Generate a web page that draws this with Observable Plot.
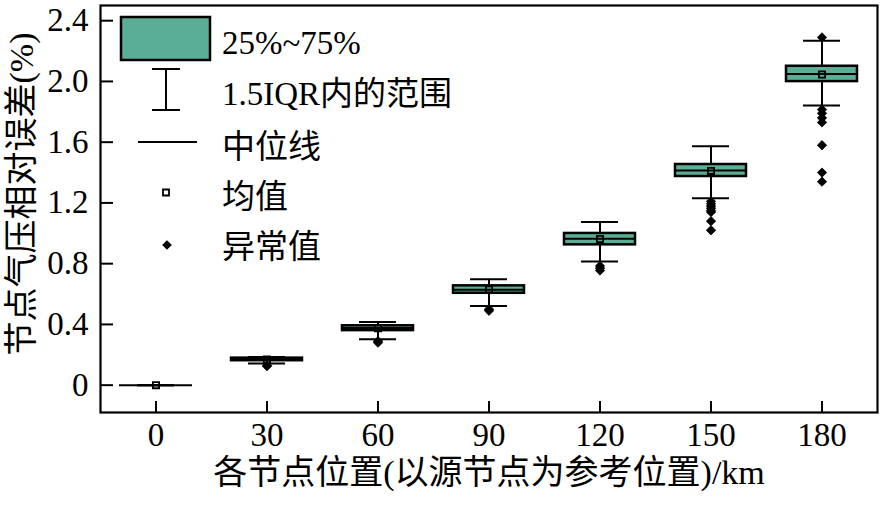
<!DOCTYPE html>
<html><head><meta charset="utf-8">
<script src="https://cdn.jsdelivr.net/npm/d3@7"></script>
<script src="https://cdn.jsdelivr.net/npm/@observablehq/plot@0.6"></script>
<style>
body{margin:0;background:#fff;}
#wrap{position:relative;width:883px;height:506px;}
</style></head><body><div id="wrap"></div>
<script>
const positions = ["0","30","60","90","120","150","180"];
const q1 = [0, 0.161, 0.359, 0.605, 0.924, 1.374, 1.999];
const q3 = [0, 0.178, 0.391, 0.654, 0.999, 1.453, 2.100];
const median = [0, 0.170, 0.377, 0.629, 0.964, 1.413, 2.049];
const mean = [0, 0.169, 0.375, 0.630, 0.962, 1.411, 2.046];
const whiskerLow = [0, 0.143, 0.302, 0.521, 0.815, 1.231, 1.841];
const whiskerHigh = [0, 0.186, 0.416, 0.697, 1.074, 1.573, 2.268];
const outliers = [[], [0.13, 0.125], [0.29, 0.28], [0.50, 0.49], [0.785, 0.77, 0.755],
  [1.21, 1.195, 1.18, 1.165, 1.15, 1.14, 1.08, 1.02],
  [2.29, 1.815, 1.79, 1.76, 1.73, 1.58, 1.40, 1.34]];
const yTicks = [0, 0.4, 0.8, 1.2, 1.6, 2.0, 2.4];
const yTickLabels = ["0", "0.4", "0.8", "1.2", "1.6", "2.0", "2.4"];
const legendLabels = ["25%~75%", "1.5IQR内的范围", "中位线", "均值", "异常值"];
const xTitle = "各节点位置(以源节点为参考位置)/km";
const yTitle = "节点气压相对误差(%)";

const teal = "#5bae96";
const font = "'Liberation Serif','Times New Roman','Noto Sans CJK SC',serif";

const boxes = positions.map((p, i) => ({pos: p, q1: q1[i], q3: q3[i], median: median[i], mean: mean[i], lo: whiskerLow[i], hi: whiskerHigh[i]}));
const outs = positions.flatMap((p, i) => outliers[i].map(v => ({pos: p, v})));

const chart = Plot.plot({
  width: 883, height: 506,
  marginLeft: 100, marginRight: 6, marginTop: 5, marginBottom: 94,
  style: {fontFamily: font, fontSize: "33px", background: "white", color: "black"},
  x: {type: "band", domain: positions, padding: 0, label: null},
  y: {domain: [-0.18, 2.5], label: null},
  marks: [
    Plot.ruleX(boxes, {x: "pos", y1: "lo", y2: "hi", stroke: "black", strokeWidth: 2}),
    Plot.tickY(boxes, {x: "pos", y: "lo", insetLeft: 37, insetRight: 37, stroke: "black", strokeWidth: 2}),
    Plot.tickY(boxes, {x: "pos", y: "hi", insetLeft: 37, insetRight: 37, stroke: "black", strokeWidth: 2}),
    Plot.barY(boxes, {x: "pos", y1: "q1", y2: "q3", fill: teal, stroke: "black", strokeWidth: 2.5, insetLeft: 20, insetRight: 20}),
    Plot.tickY(boxes, {x: "pos", y: "median", insetLeft: 19, insetRight: 19, stroke: "black", strokeWidth: 2}),
    Plot.dot(boxes, {x: "pos", y: "mean", symbol: "square", r: 3.5, stroke: "black", fill: "none", strokeWidth: 1.8}),
    Plot.dot(outs, {x: "pos", y: "v", symbol: "diamond2", r: 4.2, fill: "black", stroke: "black", strokeWidth: 0.8}),
    Plot.frame({stroke: "black", strokeWidth: 2.2}),
    Plot.axisY(yTicks, {tickSize: -13, tickFormat: () => "", stroke: "black", strokeWidth: 2, label: null}),
    Plot.axisY(yTicks, {tickSize: 0, tickPadding: 12, tickFormat: d => yTickLabels[yTicks.indexOf(d)], fontSize: 33, label: null}),
    Plot.axisX({tickSize: -11, tickFormat: () => "", stroke: "black", strokeWidth: 2, label: null}),
    Plot.axisX({tickSize: 0, tickPadding: 10, fontSize: 33, label: null}),
    Plot.text([xTitle], {text: d => d, frameAnchor: "bottom", dy: 71, fontSize: 34}),
    Plot.text([yTitle], {text: d => d, frameAnchor: "left", textAnchor: "middle", rotate: -90, dx: -78, dy: -15, fontSize: 34})
  ]
});
document.getElementById("wrap").appendChild(chart);

// Legend (inside the plot area)
const svg = d3.select(chart);
const lg = svg.append("g").attr("font-family", font).attr("font-size", 33).attr("fill", "black").attr("text-anchor", "start");
lg.append("rect").attr("x", 121).attr("y", 17).attr("width", 89).attr("height", 43)
  .attr("fill", teal).attr("stroke", "black").attr("stroke-width", 2.5);
lg.append("line").attr("x1", 166).attr("x2", 166).attr("y1", 69).attr("y2", 110).attr("stroke", "black").attr("stroke-width", 2);
lg.append("line").attr("x1", 152).attr("x2", 180).attr("y1", 69).attr("y2", 69).attr("stroke", "black").attr("stroke-width", 2);
lg.append("line").attr("x1", 152).attr("x2", 180).attr("y1", 110).attr("y2", 110).attr("stroke", "black").attr("stroke-width", 2);
lg.append("line").attr("x1", 138).attr("x2", 197).attr("y1", 142).attr("y2", 142).attr("stroke", "black").attr("stroke-width", 2);
lg.append("path").attr("d", d3.symbol(d3.symbolSquare, 36)()).attr("transform", "translate(166,192.5)")
  .attr("fill", "none").attr("stroke", "black").attr("stroke-width", 1.8);
lg.append("path").attr("d", d3.symbol(d3.symbolDiamond2, 60)()).attr("transform", "translate(167,245)")
  .attr("fill", "black");
const ly = [42, 93, 146, 196, 246];
legendLabels.forEach((t, i) => {
  lg.append("text").attr("x", 222).attr("y", ly[i]).attr("dy", "0.35em").text(t);
});
</script></body></html>
